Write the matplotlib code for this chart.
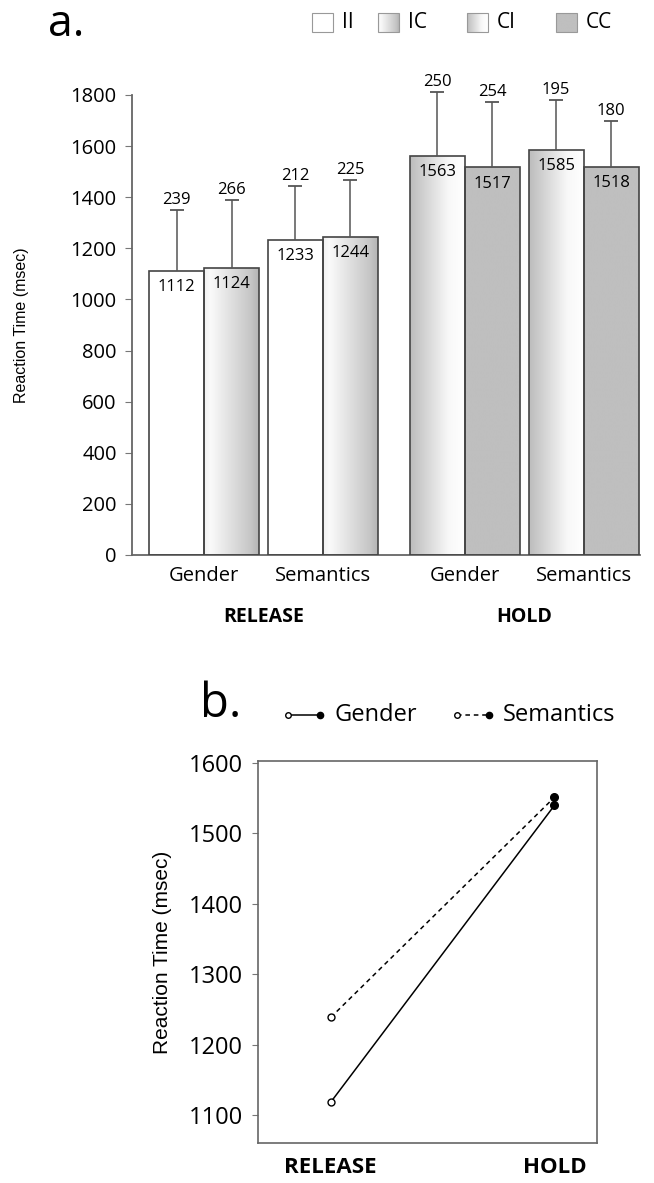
import numpy as np
import matplotlib
matplotlib.use("Agg")
import matplotlib.pyplot as plt
from matplotlib.colors import LinearSegmentedColormap
from matplotlib.lines import Line2D

plt.rcParams["font.family"] = ["Open Sans", "DejaVu Sans"]

# ---- data ----
tasks = ["Gender", "Semantics", "Gender", "Semantics"]
responses = ["RELEASE", "HOLD"]
conds = ["II", "IC", "CI", "CC"]
# bar means / SDs, two bars per task group (left, right)
bar_cond = ["II", "IC", "II", "IC", "CI", "CC", "CI", "CC"]
bar_mean = [1112, 1124, 1233, 1244, 1563, 1517, 1585, 1518]
bar_sd = [239, 266, 212, 225, 250, 254, 195, 180]

# panel b: mean RT per task x response
line_x = ["RELEASE", "HOLD"]
gender_rt = [1118, 1540]
semantics_rt = [1238.5, 1551.5]

W, H = 654, 1183
fig = plt.figure(figsize=(W / 100, H / 100), dpi=100)

EDGE = "#444444"
GREY = "#bfbfbf"
CMAPS = {
    "II": LinearSegmentedColormap.from_list("ii", ["#ffffff", "#ffffff"]),
    "IC": LinearSegmentedColormap.from_list(
        "ic", [(0, "#f0f0f0"), (0.12, "#fafafa"), (0.85, "#c6c6c6"), (1, "#b4b4b4")]),
    "CI": LinearSegmentedColormap.from_list(
        "ci", [(0, "#bcbcbc"), (0.7, "#f8f8f8"), (1, "#ffffff")]),
    "CC": LinearSegmentedColormap.from_list("cc", [GREY, GREY]),
}
grad = np.linspace(0, 1, 256).reshape(1, -1)


def shaded_box(ax, x0, y0, w, h, cond, lw=1.2, ec=EDGE, clip=True):
    r = plt.Rectangle((x0, y0), w, h, fc="none", ec=ec, lw=lw, zorder=3)
    ax.add_patch(r)
    im = ax.imshow(grad, cmap=CMAPS[cond], extent=(x0, x0 + w, y0, y0 + h),
                   aspect="auto", zorder=2, vmin=0, vmax=1, interpolation="bilinear")
    if clip:
        im.set_clip_path(r)
    return r


# ---- panel a ----
ax = fig.add_axes([132 / W, 1 - 555 / H, 508 / W, 460 / H])
bw = 1.0
pair_c = np.arange(4) * 2.16 + np.array([0, 0, 0.42, 0.42]) + 1.31
xs = np.repeat(pair_c, 2) + np.tile([-0.5, 0.5], 4) * bw
for x, m, sd, c in zip(xs, bar_mean, bar_sd, bar_cond):
    shaded_box(ax, x - bw / 2, 0, bw, m, c)
    ax.vlines(x, m, m + sd, color="#555555", lw=1.1, zorder=4, clip_on=False)
    ax.plot([x], [m + sd], marker="_", ms=10, mew=1.3, color="#555555",
            zorder=4, clip_on=False)
    ax.annotate(str(sd), (x, m + sd), xytext=(0, 1.5), textcoords="offset points",
                ha="center", va="bottom", fontsize=12, annotation_clip=False)
    ax.annotate(str(m), (x, m), xytext=(0, -6), textcoords="offset points",
                ha="center", va="top", fontsize=12, zorder=5)

ax.set_xlim(0, 508 / 55)
ax.set_ylim(0, 1800)
ax.set_yticks(np.arange(0, 1801, 200))
ax.tick_params(axis="y", labelsize=14.5, length=5, pad=6, color="#777777")
ax.set_xticks(pair_c)
ax.set_xticklabels(tasks, fontsize=14.5)
ax.tick_params(axis="x", length=0, pad=8)
for s in ["top", "right"]:
    ax.spines[s].set_visible(False)
for s in ["left", "bottom"]:
    ax.spines[s].set_color("#666666")
    ax.spines[s].set_linewidth(1.3)
ax.set_ylabel("Reaction Time (msec)", family="Liberation Sans", fontsize=11.5, labelpad=30)
for i, lab in enumerate(responses):
    xc = pair_c[2 * i:2 * i + 2].mean()
    ax.text(xc, -0.135, lab, transform=ax.get_xaxis_transform(), ha="center",
            va="center", fontsize=14, weight="bold")

# ---- panel b ----
bx = fig.add_axes([258 / W, 1 - 1143 / H, 339 / W, 382 / H])
xi = np.arange(len(line_x))
bx.plot(xi, gender_rt, "-", color="black", lw=1.1, zorder=2)
bx.plot(xi, semantics_rt, "--", color="black", lw=1.1, dashes=(3, 2.5), zorder=2)
for ys in (gender_rt, semantics_rt):
    bx.plot(xi[:1], ys[:1], "o", ms=5, mfc="white", mec="black", mew=1, zorder=3)
    bx.plot(xi[1:], ys[1:], "o", ms=5.5, mfc="black", mec="black", zorder=3)
bx.set_xlim(-0.325, 1.19)
bx.set_ylim(1060, 1603)
bx.set_yticks(np.arange(1100, 1601, 100))
bx.set_xticks(xi)
bx.set_xticklabels(line_x, fontsize=16, weight="bold")
bx.tick_params(axis="x", length=0, pad=10)
bx.tick_params(axis="y", labelsize=17, length=4, pad=7, color="#777777")
for s in bx.spines.values():
    s.set_color("#666666")
    s.set_linewidth(1.2)
bx.set_ylabel("Reaction Time (msec)", family="Liberation Sans", fontsize=15, labelpad=12)

# ---- overlay for panel letters and legends (pixel coords) ----
ov = fig.add_axes([0, 0, 1, 1], zorder=10)
ov.set_xlim(0, W)
ov.set_ylim(H, 0)
ov.axis("off")
ov.text(48, 25, "a.", fontsize=32, va="center", ha="left")
ov.text(200, 704, "b.", fontsize=34, va="center", ha="left")

lx = [312, 378, 467, 556]
for x0, c in zip(lx, conds):
    shaded_box(ov, x0, 13, 21, 19, c, lw=0.8, ec="#999999", clip=False)
    ov.text(x0 + 30, 22, c, fontsize=15, va="center", ha="left")

for x0, ls, lab in [(288, "-", "Gender"), (457, "--", "Semantics")]:
    ov.add_line(Line2D([x0, x0 + 32], [715, 715], color="black", lw=1.1, ls=ls,
                       dashes=(3, 2.5) if ls == "--" else (None, None)))
    ov.plot([x0], [715], "o", ms=4, mfc="white", mec="black", mew=1)
    ov.plot([x0 + 32], [715], "o", ms=4.5, color="black")
    ov.text(x0 + 46, 715, lab, fontsize=17, va="center", ha="left")

fig.savefig("out.png", dpi=100)
